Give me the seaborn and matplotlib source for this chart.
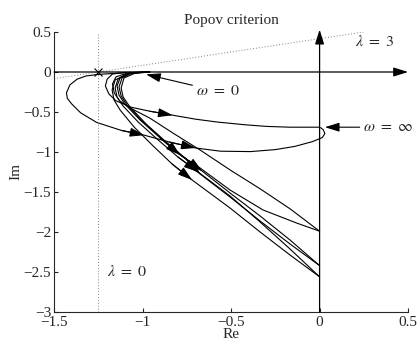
import matplotlib
matplotlib.use("Agg")
import matplotlib.pyplot as plt
import seaborn as sns

# Popov plot curves (Re, omega*Im)
a_x = [-0.96, -1.10, -1.25, -1.32, -1.37, -1.41, -1.43, -1.425, -1.40, -1.35, -1.26, -1.12, -0.99, -0.85, -0.70, -0.56, -0.39, -0.25, -0.14, -0.04, 0.015, 0.03, 0.02, 0.005]
a_y = [0, -0.01, -0.03, -0.05, -0.09, -0.16, -0.26, -0.33, -0.40, -0.51, -0.63, -0.73, -0.79, -0.875, -0.95, -0.99, -0.995, -0.97, -0.93, -0.87, -0.82, -0.77, -0.72, -0.695]

b_x = [-0.96, -1.10, -1.17, -1.20, -1.21, -1.19, -1.15, -1.065, -0.96, -0.83, -0.70, -0.58, -0.42, -0.30, -0.17, -0.05, 0.0]
b_y = [0, -0.006, -0.025, -0.09, -0.175, -0.275, -0.36, -0.44, -0.49, -0.54, -0.59, -0.625, -0.66, -0.68, -0.69, -0.69, -0.69]

c_x = [-0.96, -1.08, -1.15, -1.17, -1.16, -1.13, -1.07, -0.96, -0.82, -0.675, -0.505, -0.336, -0.167, 0.0]
c_y = [0, -0.01, -0.06, -0.15, -0.26, -0.36, -0.45, -0.575, -0.775, -0.975, -1.225, -1.46, -1.71, -1.99]

d_x = [-0.96, -1.07, -1.127, -1.144, -1.133, -1.10, -1.014, -0.90, -0.788, -0.675, -0.506, -0.319, -0.127, 0.0]
d_y = [0, -0.0125, -0.075, -0.175, -0.29, -0.40, -0.60, -0.825, -1.0375, -1.20, -1.475, -1.725, -1.89, -1.99]

e_x = [-0.96, -1.06, -1.116, -1.133, -1.121, -1.088, -1.003, -0.89, -0.777, -0.664, -0.506, -0.336, -0.167, 0.0]
e_y = [0, -0.0125, -0.075, -0.1875, -0.30, -0.4125, -0.6125, -0.8375, -1.05, -1.2375, -1.5125, -1.80, -2.10, -2.42]

f_x = [-0.96, -1.04, -1.105, -1.121, -1.11, -1.071, -0.98, -0.867, -0.76, -0.675, -0.506, -0.336, -0.167, 0.0]
f_y = [0, -0.0125, -0.075, -0.20, -0.3125, -0.4375, -0.65, -0.875, -1.075, -1.275, -1.5625, -1.8625, -2.15, -2.42]

g_x = [-0.96, -1.082, -1.138, -1.155, -1.144, -1.11, -1.025, -0.912, -0.80, -0.686, -0.506, -0.336, -0.167, 0.0]
g_y = [0, -0.0125, -0.0875, -0.20, -0.3125, -0.425, -0.625, -0.85, -1.0625, -1.25, -1.55, -1.875, -2.2125, -2.56]

h_x = [-0.96, -1.088, -1.155, -1.172, -1.161, -1.127, -1.048, -0.94, -0.833, -0.72, -0.506, -0.336, -0.167, 0.0]
h_y = [0, -0.025, -0.10, -0.225, -0.35, -0.475, -0.6875, -0.925, -1.15, -1.35, -1.70, -2.0, -2.2875, -2.56]

# which points carry a direction arrow
curves = [(a_x, a_y, [12, 14]), (b_x, b_y, [9]), (c_x, c_y, []),
          (d_x, d_y, [8]), (e_x, e_y, [9]), (f_x, f_y, [9]),
          (g_x, g_y, [9]), (h_x, h_y, [9])]

# Popov line through -1/k with slope 1/lambda
popov_x = [-1.5, 0.25]
popov_y = [-0.0833, 0.5]
crit_re = -1.25

x_ticks = [-1.5, -1, -0.5, 0, 0.5]
y_ticks = [-3, -2.5, -2, -1.5, -1, -0.5, 0, 0.5]

sns.set_style("ticks")
plt.rcParams['font.family'] = ['Liberation Serif', 'DejaVu Serif']
plt.rcParams['mathtext.fontset'] = 'stix'

fig, ax = plt.subplots(figsize=(4.19, 3.44), dpi=100)
fig.subplots_adjust(left=0.129, right=0.974, bottom=0.093, top=0.907)

arrow_kw = dict(arrowstyle='-|>,head_length=0.8,head_width=0.25', color='k',
                lw=0.8, shrinkA=0, shrinkB=0, mutation_scale=11)

for cx, cy, marks in curves:
    sns.lineplot(x=cx, y=cy, sort=False, estimator=None, color='k', lw=0.8, ax=ax)
    for i in marks:
        ax.annotate('', xy=(cx[i], cy[i]), xytext=(cx[i - 1], cy[i - 1]), arrowprops=arrow_kw)

# dotted reference lines
ax.plot([crit_re, crit_re], [-3, 0.5], ls=(0, (1, 2)), color='0.5', lw=0.7)
ax.plot(popov_x, popov_y, ls=(0, (1, 2)), color='0.5', lw=0.7)
ax.plot([crit_re], [0], marker='x', color='k', ms=6, mew=0.8)

# coordinate axes with arrows
ax.annotate('', xy=(0.5, 0), xytext=(-1.5, 0), annotation_clip=False,
            arrowprops=dict(arrowstyle='-|>,head_length=0.8,head_width=0.25', color='k',
                            lw=0.9, shrinkA=0, shrinkB=0, mutation_scale=11))
ax.annotate('', xy=(0, 0.53), xytext=(0, -3), annotation_clip=False,
            arrowprops=dict(arrowstyle='-|>,head_length=0.8,head_width=0.25', color='k',
                            lw=0.9, shrinkA=0, shrinkB=0, mutation_scale=11))

ax.annotate(r'$\omega\ =\ 0$', xy=(-0.98, -0.03), xytext=(-0.70, -0.24),
            fontsize=11.5, va='center', ha='left', arrowprops=arrow_kw)
ax.annotate(r'$\omega\ =\ \infty$', xy=(0.03, -0.69), xytext=(0.245, -0.69),
            fontsize=11.5, va='center', ha='left', arrowprops=arrow_kw)
ax.text(0.2, 0.37, r'$\lambda\ =\ 3$', fontsize=11.5, va='center', ha='left')
ax.text(-1.2, -2.5, r'$\lambda\ =\ 0$', fontsize=11.5, va='center', ha='left')

ax.set_xlim(-1.5, 0.5)
ax.set_ylim(-3, 0.5)
ax.set_xticks(x_ticks)
ax.set_xticklabels(['\u22121.5', '\u22121', '\u22120.5', '0', '0.5'])
ax.set_yticks(y_ticks)
ax.set_yticklabels(['\u22123', '\u22122.5', '\u22122', '\u22121.5', '\u22121', '\u22120.5', '0', '0.5'])
ax.tick_params(direction='in', length=3, width=0.8, labelsize=11, pad=2)
ax.tick_params(axis='x', pad=3)
for side in ['top', 'right']:
    ax.spines[side].set_visible(False)
for side in ['left', 'bottom']:
    ax.spines[side].set_linewidth(0.8)

ax.set_title('Popov criterion', fontsize=11, pad=6)
ax.set_xlabel('Re', fontsize=11, labelpad=-1)
ax.set_ylabel('Im', fontsize=11, labelpad=1)

fig.savefig('out.png', dpi=100)
